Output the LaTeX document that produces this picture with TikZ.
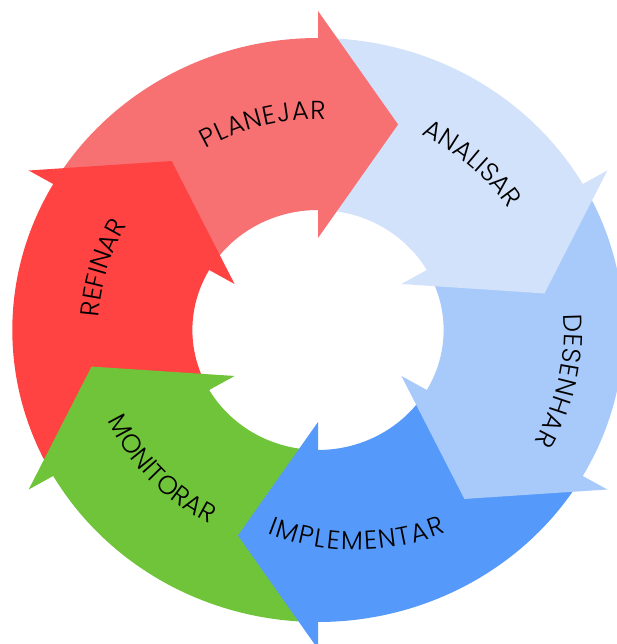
\documentclass[tikz,border=0pt]{standalone}
\usepackage{fontspec}
\newfontfamily\labfont{Poppins Light}
\usetikzlibrary{decorations.text}
\definecolor{cPlan}{HTML}{F77072}
\definecolor{cRef}{HTML}{FF4343}
\definecolor{cMon}{HTML}{70C43A}
\definecolor{cImp}{HTML}{5599FA}
\definecolor{cDes}{HTML}{A8CAFA}
\definecolor{cAna}{HTML}{D2E2FA}
\newcommand\lf{\labfont\fontsize{26pt}{26pt}\selectfont}
\tikzset{
  labpath/.style={decorate, decoration={text along path, text align=center, text={#1}}}
}
\begin{document}
\begin{tikzpicture}[x=1pt,y=1pt]
\useasboundingbox (0,0) rectangle (617,644);
\fill[white] (0,0) rectangle (617,644);
\begin{scope}[shift={(318,314)}, xscale=1.047]
  % ring bodies (each starts and ends a little under an arrow head)
  \foreach \b/\c in {90/cPlan, 30/cAna, -30/cDes, -90/cImp, -150/cMon, 150/cRef} {
    \pgfmathsetmacro\s{\b+58.5}
    \pgfmathsetmacro\e{\b-1.5}
    \fill[\c] (\s:120) arc[start angle=\s, end angle=\e, radius=120]
      -- (\e:292) arc[start angle=\e, end angle=\s, radius=292] -- cycle;
  }
  % arrow heads
  \foreach \b/\c in {90/cPlan, 30/cAna, -30/cDes, -90/cImp, -150/cMon, 150/cRef} {
    \pgfmathsetmacro\t{\b-20.4}
    \coordinate (ob) at (\b:319);
    \coordinate (tp) at (\t:219.3);
    \coordinate (ib) at (\b:92);
    \fill[\c] (ob) -- (tp) -- (ib) -- cycle;
  }
  % labels
  \path[labpath={|\lf\kern0.9pt|PLANEJAR}] (139.6:211) arc[start angle=139.6, end angle=69.6, radius=211];
  \path[labpath={|\lf|ANALISAR}] (83:219) arc[start angle=83, end angle=13, radius=219];
  \path[labpath={|\lf\kern0.8pt|DESENHAR}] (23:235) arc[start angle=23, end angle=-47, radius=235];
  \path[labpath={|\lf|MONITORAR}] (172.5:220) arc[start angle=172.5, end angle=272.5, radius=220];
  \path[labpath={|\lf|REFINAR}] (198.5:210) arc[start angle=198.5, end angle=128.5, radius=210];
\end{scope}
\coordinate (ic) at (356,337);
\path[labpath={|\lf\kern1.8pt|IMPLEMENTAR}] ([shift={(-120:243)}]ic) arc[start angle=-120, end angle=-60, radius=243];
\end{tikzpicture}
\end{document}
